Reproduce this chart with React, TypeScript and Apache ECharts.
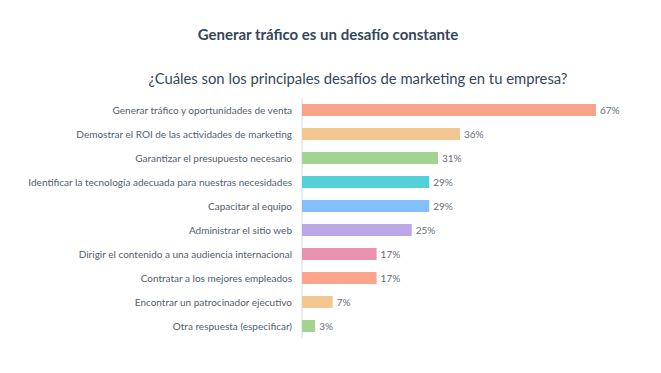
import React, { useEffect, useRef } from "react";
import * as echarts from "echarts";

const categories = [
  "Generar tráfico y oportunidades de venta",
  "Demostrar el ROI de las actividades de marketing",
  "Garantizar el presupuesto necesario",
  "Identificar la tecnología adecuada para nuestras necesidades",
  "Capacitar al equipo",
  "Administrar el sitio web",
  "Dirigir el contenido a una audiencia internacional",
  "Contratar a los mejores empleados",
  "Encontrar un patrocinador ejecutivo",
  "Otra respuesta (especificar)",
];
const values = [67, 36, 31, 29, 29, 25, 17, 17, 7, 3];
const colors = [
  "#f9a38b",
  "#f3c78f",
  "#a3d391",
  "#54d1d8",
  "#83c0fb",
  "#bba6e7",
  "#ea91b0",
  "#fda48c",
  "#f3c78f",
  "#a3d391",
];
const title = "Generar tráfico es un desafío constante";
const subtitle = "¿Cuáles son los principales desafíos de marketing en tu empresa?";

export default function App() {
  const ref = useRef<HTMLDivElement>(null);
  useEffect(() => {
    if (!ref.current) return;
    const chart = echarts.init(ref.current, undefined, { renderer: "svg" });
    const font = "Lato, 'Noto Sans', sans-serif";
    chart.setOption({
      animation: false,
      backgroundColor: "#ffffff",
      title: [
        {
          text: title,
          left: 323,
          top: 21,
          textAlign: "center",
          textStyle: { fontFamily: font, fontSize: 15, fontWeight: "bold", color: "#33475b" },
        },
        {
          text: subtitle,
          left: 353,
          top: 65,
          textAlign: "center",
          textStyle: { fontFamily: font, fontSize: 14.8, fontWeight: "normal", color: "#33475b" },
        },
      ],
      grid: { left: 302, right: 8, top: 98, bottom: 35, containLabel: false },
      xAxis: {
        type: "value",
        min: 0,
        max: 80,
        show: false,
      },
      yAxis: {
        type: "category",
        inverse: true,
        data: categories,
        axisLine: { show: true, lineStyle: { color: "#e3e8ee", width: 1.5 } },
        axisTick: { show: false },
        axisLabel: {
          margin: 10,
          fontFamily: font,
          fontSize: 10,
          color: "#53606e",
        },
      },
      series: [
        {
          type: "bar",
          data: values.map((v, i) => ({ value: v, itemStyle: { color: colors[i] } })),
          barWidth: 12,
          label: {
            show: true,
            position: "right",
            distance: 4,
            formatter: "{c}%",
            fontFamily: font,
            fontSize: 10,
            color: "#666f78",
          },
        },
      ],
    });
    return () => chart.dispose();
  }, []);
  return (
    <div
      ref={ref}
      style={{ position: "fixed", left: 0, top: 0, width: 661, height: 373, background: "#fff" }}
    />
  );
}
